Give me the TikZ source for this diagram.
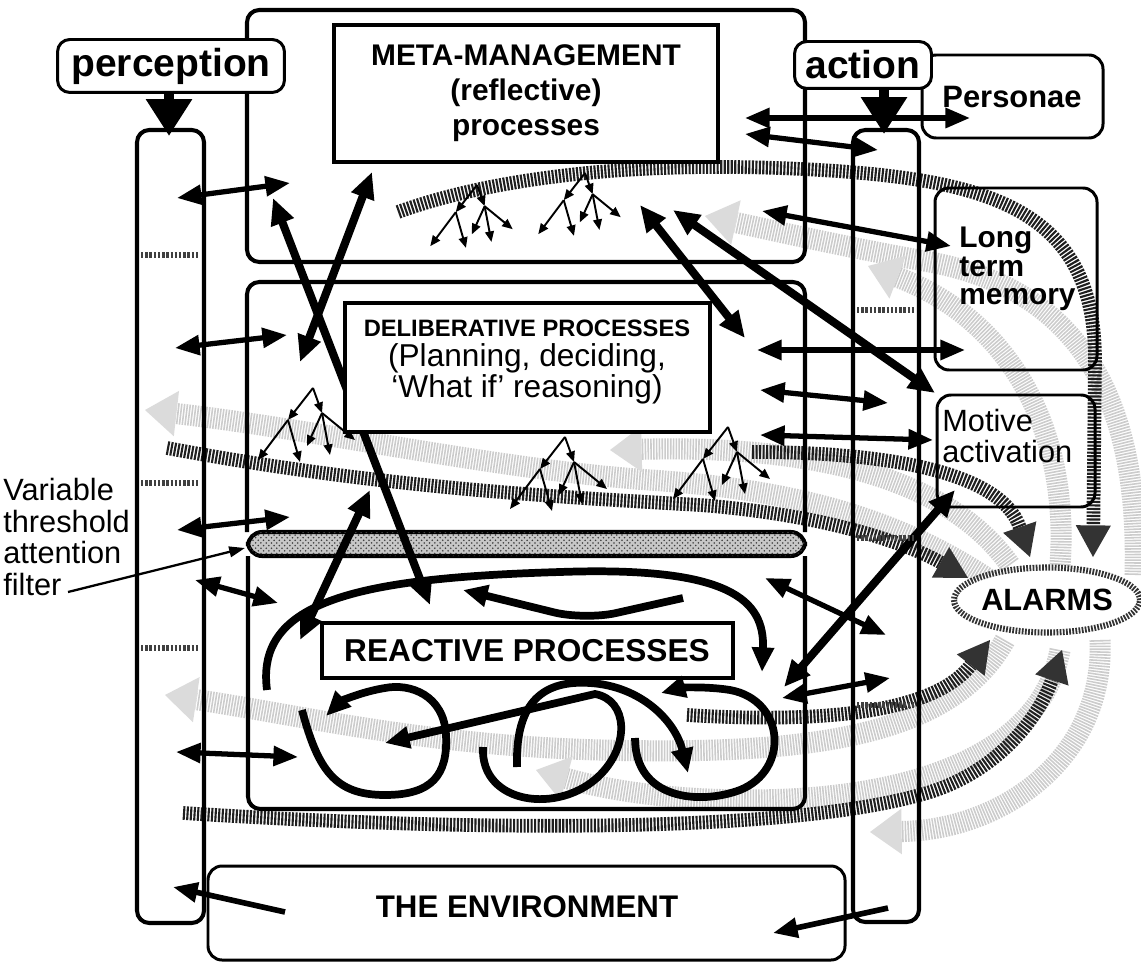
\documentclass[tikz,border=0pt]{standalone}
\usepackage{fontspec}
\setmainfont{Liberation Sans}
\usetikzlibrary{arrows.meta,patterns,shapes.geometric}

\newcommand{\proctree}[3]{%
  \begin{scope}[shift={(#1,#2)},scale=#3]
    \draw[twig] (0,0) -- (-25,32);
    \draw[twig] (-25,32) -- (-55,72);
    \draw[twig] (-25,32) -- (-13,74);
    \draw[twig] (0,0) -- (9,25);
    \draw[twig] (9,25) -- (-6,58);
    \draw[twig] (9,25) -- (17,67);
    \draw[twig] (9,25) -- (42,52);
  \end{scope}}

\begin{document}
\begin{tikzpicture}[x=0.02cm,y=-0.02cm,
    layer/.style={line width=2.3pt,rounded corners=7pt},
    titlebox/.style={line width=2pt,fill=white},
    sidebox/.style={line width=1.7pt,rounded corners=8pt},
    tagbox/.style={draw,fill=white,line width=1.7pt,rounded corners=7pt,inner sep=0pt,
      font=\fontsize{22.2}{24}\selectfont\bfseries},
    inflow/.style={line width=6pt,-{Triangle[length=21pt,width=25pt]}},
    biarrow/.style={line width=3pt,{Triangle[length=14pt,width=11pt]}-{Triangle[length=14pt,width=11pt]}},
    heavy/.style={line width=4.6pt,{Triangle[length=15pt,width=13pt]}-{Triangle[length=15pt,width=13pt]}},
    oneway/.style={line width=3.2pt,-{Triangle[length=14pt,width=11pt]}},
    swirl/.style={line width=4.4pt,-{Triangle[length=14pt,width=12pt]}},
    twig/.style={line width=1.1pt,-{Triangle[length=6pt,width=5pt]}},
    stripes/.style={line width=7.8pt,black!88,dash pattern=on 1.2pt off 0.8pt,
      -{Triangle[length=18pt,width=20pt,line width=0pt,fill=black!80]}},
    haze/.style={line width=12pt,black!20,dash pattern=on 0.9pt off 0.7pt,
      -{Triangle[length=18pt,width=26pt,line width=0pt,fill=black!14]}},
    hatch/.style={line width=3.4pt,black!75,dash pattern=on 1.4pt off 1pt},
    sidetext/.style={font=\fontsize{17}{16.2}\selectfont\bfseries,align=left,anchor=west,inner sep=0pt}]

  \useasboundingbox (0,0) rectangle (1141,962);
  \clip (0,0) rectangle (1141,962);
  \fill[white] (0,0) rectangle (1141,962);

  % alarm signals spreading back into the layers
  \draw[haze] (1135,575) .. controls (1140,400) and (1080,290) .. (930,262) .. controls (850,248) and (780,232) .. (705,216);
  \draw[haze] (1060,565) .. controls (1070,430) and (1010,320) .. (868,266);
  \draw[haze] (990,580) .. controls (900,520) and (800,490) .. (650,480) .. controls (500,470) and (320,430) .. (145,410);
  \draw[haze] (1010,565) .. controls (950,480) and (820,445) .. (610,450);
  \draw[haze] (1005,640) .. controls (950,740) and (800,755) .. (600,750) .. controls (420,745) and (300,715) .. (165,695);
  \draw[haze] (1060,650) .. controls (1040,760) and (900,800) .. (750,800) .. controls (650,800) and (590,785) .. (536,770);
  \draw[haze] (1100,640) .. controls (1105,760) and (1000,830) .. (870,832);

  % inputs to the alarm system
  \draw[stripes] (398,212) .. controls (500,175) and (650,160) .. (820,170) .. controls (990,180) and (1095,210) .. (1095,360) -- (1093,557);
  \draw[stripes] (752,452) .. controls (880,452) and (1000,470) .. (1030,557);
  \draw[stripes] (167,448) .. controls (380,488) and (560,497) .. (700,505) .. controls (830,515) and (910,545) .. (968,578);
  \draw[stripes] (687,715) .. controls (800,722) and (930,718) .. (990,640);
  \draw[stripes] (183,813) .. controls (500,833) and (800,832) .. (930,792) .. controls (1000,770) and (1040,715) .. (1062,650);

  % the three layers
  \draw[layer] (247,10) rectangle (805,262);
  \draw[layer] (247,532) -- (247,282) -- (805,282) -- (805,532);
  \draw[layer] (248,556) -- (248,809) -- (805,809) -- (805,556);
  \draw[layer] (137,130) rectangle (204,923);
  \draw[layer] (853,130) rectangle (919,922);
  \draw[sidebox] (935,188) rectangle (1097,370);
  \draw[sidebox] (937,395) rectangle (1095,507);
  \draw[sidebox] (208,866) rectangle (845,960);
  \draw[line width=2.3pt,rounded corners=8pt,fill=black!22,
    postaction={pattern=crosshatch dots,pattern color=black!75}] (248,532) rectangle (805,556);

  \draw[heavy] (273,198) -- (430,605);
  \draw[heavy] (300,362) -- (372,172);
  \draw[heavy] (300,640) -- (370,490);
  \draw[heavy] (640,205) -- (745,338);
  \draw[heavy] (673,210) -- (935,393);
  \draw[heavy] (784,687) -- (955,490);

  \draw[titlebox] (334,25) rectangle (718,162);
  \node[font=\fontsize{17}{19.8}\selectfont\bfseries,align=center] (meta) at (526,93)
    {META-MANAGEMENT\\(reflective)\\processes};
  \draw[titlebox] (345,303) rectangle (710,432);
  \node[font=\fontsize{18}{17.5}\selectfont,align=center] (delib) at (527,362)
    {{\fontsize{13.5}{15}\selectfont\bfseries DELIBERATIVE PROCESSES}\\(Planning, deciding,\\‘What if’ reasoning)};
  \draw[titlebox] (322,623) rectangle (733,678);
  \node[font=\fontsize{18}{20}\selectfont\bfseries] (react) at (527,651) {REACTIVE PROCESSES};
  \node[font=\fontsize{17.8}{20}\selectfont\bfseries] (env) at (527,907) {THE ENVIRONMENT};

  \proctree{477}{185}{0.85}
  \proctree{585}{173}{0.85}
  \proctree{313}{388}{1}
  \proctree{565}{437}{1}
  \proctree{728}{427}{1}

  % reactive loops
  \draw[swirl] (267,690) .. controls (255,600) and (360,578) .. (560,572) .. controls (730,566) and (765,600) .. (762,672);
  \draw[swirl,rounded corners=18pt] (683,598) -- (585,620) -- (463,590);
  \draw[swirl] (302,710) .. controls (318,770) and (335,795) .. (385,795) .. controls (432,795) and (448,775) .. (446,735) .. controls (444,695) and (410,683) .. (385,688) .. controls (360,692) and (340,702) .. (326,716);
  \draw[swirl] (483,747) .. controls (480,805) and (560,815) .. (600,775) .. controls (630,745) and (628,700) .. (595,694) -- (385,743);
  \draw[swirl] (517,767) .. controls (515,700) and (545,680) .. (590,683) .. controls (640,686) and (675,720) .. (688,773);
  \draw[swirl] (635,738) .. controls (635,800) and (700,805) .. (740,790) .. controls (790,770) and (785,700) .. (730,690) .. controls (705,686) and (680,688) .. (661,693);

  \draw[sidebox,fill=white] (922,55) rectangle (1103,138);
  \node[font=\fontsize{17.6}{19}\selectfont\bfseries] (personae) at (1012,97) {Personae};
  \node[sidetext] (ltm) at (959,269) {Long\\term\\memory};
  \node[sidetext,font=\fontsize{17.5}{18}\selectfont] (motive) at (942,436) {Motive\\activation};

  % perception side
  \draw[biarrow] (177,198) -- (290,183);
  \draw[biarrow] (175,348) -- (287,335);
  \draw[biarrow] (177,530) -- (290,517);
  \draw[biarrow] (195,580) -- (278,603);
  \draw[biarrow] (176,752) -- (298,757);
  \draw[oneway] (285,912) -- (173,887);

  % action side
  \draw[biarrow] (745,118) -- (970,118);
  \draw[biarrow] (745,134) -- (878,150);
  \draw[biarrow] (762,211) -- (951,246);
  \draw[biarrow] (757,350) -- (965,350);
  \draw[biarrow] (760,390) -- (888,403);
  \draw[biarrow] (760,435) -- (933,440);
  \draw[biarrow] (765,578) -- (886,635);
  \draw[biarrow] (782,698) -- (890,678);
  \draw[oneway] (888,908) -- (773,933);

  \node[tagbox,minimum width=4.54cm,minimum height=1.06cm] (perception) at (171,66) {perception};
  \node[tagbox,minimum width=2.74cm,minimum height=0.94cm] (action) at (863,65) {action};
  \draw[inflow] (169,91) -- (169,136);
  \draw[inflow] (884,88) -- (884,134);

  \draw[hatch] (141,255) -- (200,255);
  \draw[hatch] (141,483) -- (200,483);
  \draw[hatch] (141,648) -- (200,648);
  \draw[hatch] (857,310) -- (915,310);
  \draw[hatch] (857,538) -- (915,538);
  \draw[hatch] (857,705) -- (915,705);

  \node[ellipse,draw=black!80,line width=3.5pt,dash pattern=on 1pt off 0.8pt,fill=white,
    minimum width=3.72cm,minimum height=1.3cm,inner sep=0pt,
    font=\fontsize{17.5}{20}\selectfont\bfseries] (alarms) at (1047,600) {ALARMS};

  \node[font=\fontsize{17.5}{18}\selectfont,align=left,anchor=west,inner sep=0pt] (filterlabel) at (3,537)
    {Variable\\threshold\\attention\\filter};
  \coordinate (filtertip) at (245,548);
  \draw[line width=1.3pt,-{Triangle[length=9pt,width=6pt]}] (68,592) -- (filtertip);
\end{tikzpicture}
\end{document}
